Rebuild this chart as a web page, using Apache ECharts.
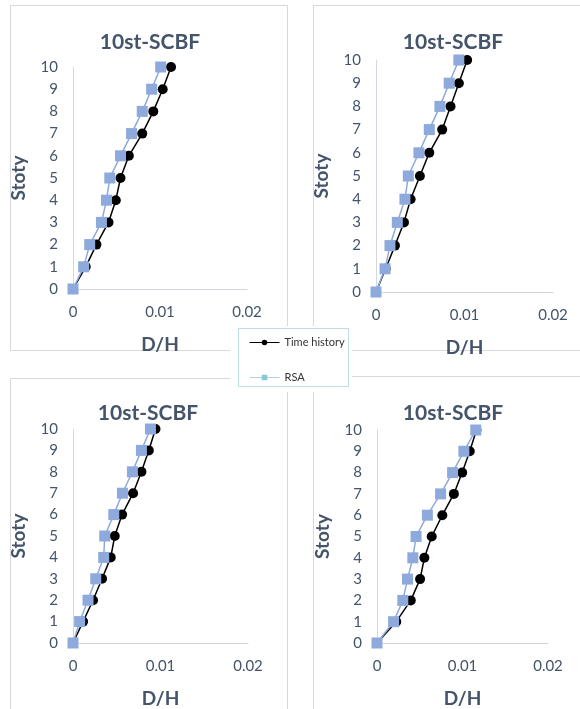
<!DOCTYPE html>
<html>
<head>
<meta charset="utf-8">
<script src="https://cdn.jsdelivr.net/npm/echarts@6/dist/echarts.min.js"></script>
<style>
  html, body { margin: 0; padding: 0; background: #fff; }
  #chart { width: 580px; height: 709px; }
</style>
</head>
<body>
<div id="chart"></div>
<script>
// Storey levels (vertical axis) shared by all four frames
const storeys = [0, 1, 2, 3, 4, 5, 6, 7, 8, 9, 10];

// Drift ratio D/H per storey, time-history analysis vs response spectrum analysis
const timeHistoryA = [0, 0.00146, 0.00269, 0.00408, 0.00492, 0.00546, 0.00642, 0.00796, 0.00923, 0.01031, 0.01127];
const rsaA         = [0, 0.00123, 0.00192, 0.00327, 0.00385, 0.00423, 0.00546, 0.00673, 0.00796, 0.00904, 0.01008];

const timeHistoryB = [0, 0.00109, 0.00214, 0.00316, 0.00391, 0.00496, 0.00602, 0.00748, 0.00842, 0.00936, 0.01030];
const rsaB         = [0, 0.00102, 0.00158, 0.00241, 0.00327, 0.00365, 0.00485, 0.00602, 0.00722, 0.00827, 0.00936];

const timeHistoryC = [0, 0.00115, 0.00229, 0.00332, 0.00431, 0.00477, 0.00561, 0.00687, 0.00782, 0.00866, 0.00943];
const rsaC         = [0, 0.00076, 0.00172, 0.00260, 0.00351, 0.00363, 0.00466, 0.00565, 0.00679, 0.00782, 0.00885];

const timeHistoryD = [0, 0.00225, 0.00395, 0.00504, 0.00554, 0.00640, 0.00764, 0.00899, 0.00996, 0.01085, 0.01163];
const rsaD         = [0, 0.00194, 0.00302, 0.00357, 0.00419, 0.00457, 0.00589, 0.00744, 0.00884, 0.01016, 0.01155];

const chartTitle = '10st-SCBF';
const xTitle = 'D/H';
const yTitle = 'Stoty';
const seriesNames = ['Time history', 'RSA'];

const xMin = 0, xMax = 0.02, xStep = 0.01;
const yMin = 0, yMax = 10, yStep = 1;

const FONT = 'Lato, "Open Sans", sans-serif';
const SLATE = '#44546A';
const AXIS_GRAY = '#D0D7E1';
const BLUE = '#8EA9DB';

const panels = [
  { th: timeHistoryA, rsa: rsaA, grid: { left: 73,  right: 333, top: 67,  bottom: 420 }, titleAt: [150, 42],
    frame: [10, 5, 277, 345] },
  { th: timeHistoryB, rsa: rsaB, grid: { left: 376, right: 27,  top: 60,  bottom: 417 }, titleAt: [453, 42],
    frame: [313, 5, 290, 345] },
  { th: timeHistoryC, rsa: rsaC, grid: { left: 73,  right: 332, top: 429, bottom: 60 },  titleAt: [148, 413],
    frame: [10, 378, 277, 360] },
  { th: timeHistoryD, rsa: rsaD, grid: { left: 377, right: 32,  top: 430, bottom: 59 },  titleAt: [453, 413],
    frame: [313, 376, 290, 360] }
];

const pairs = (xs) => xs.map((x, i) => [x, storeys[i]]);

const grids = [], xAxes = [], yAxes = [], series = [], graphics = [];

panels.forEach((p, i) => {
  grids.push(Object.assign({ containLabel: false }, p.grid));

  xAxes.push({
    type: 'value', gridIndex: i, min: xMin, max: xMax, interval: xStep,
    name: xTitle, nameLocation: 'middle', nameGap: 46,
    nameTextStyle: { fontFamily: FONT, fontSize: 19, fontWeight: 'bold', color: SLATE },
    axisLine: { show: true, onZero: false, lineStyle: { color: AXIS_GRAY, width: 1 } },
    axisTick: { show: false },
    splitLine: { show: false },
    axisLabel: { fontFamily: FONT, fontSize: 15, color: SLATE, margin: 16,
      formatter: (v) => (v === 0 ? '0' : String(+v.toFixed(2))) }
  });

  yAxes.push({
    type: 'value', gridIndex: i, min: yMin, max: yMax, interval: yStep,
    name: yTitle, nameLocation: 'middle', nameGap: 45,
    nameTextStyle: { fontFamily: FONT, fontSize: 19, fontWeight: 'bold', color: SLATE },
    axisLine: { show: true, onZero: false, lineStyle: { color: AXIS_GRAY, width: 1 } },
    axisTick: { show: false },
    splitLine: { show: false },
    axisLabel: { fontFamily: FONT, fontSize: 15, color: SLATE, margin: 15 }
  });

  series.push({
    name: seriesNames[0], type: 'line', xAxisIndex: i, yAxisIndex: i,
    data: pairs(p.th), symbol: 'circle', symbolSize: 10,
    itemStyle: { color: '#000' }, lineStyle: { color: '#000', width: 1.5 },
    emphasis: { disabled: true }, animation: false, z: 2
  });
  series.push({
    name: seriesNames[1], type: 'line', xAxisIndex: i, yAxisIndex: i,
    data: pairs(p.rsa), symbol: 'rect', symbolSize: 11,
    itemStyle: { color: BLUE }, lineStyle: { color: BLUE, width: 1.5 },
    emphasis: { disabled: true }, animation: false, z: 3
  });

  // chart-area frame of each panel
  graphics.push({
    type: 'rect', z: 0, silent: true,
    shape: { x: p.frame[0] + 0.5, y: p.frame[1] + 0.5, width: p.frame[2], height: p.frame[3] },
    style: { fill: 'none', stroke: '#D9D9D9', lineWidth: 1 }
  });
  // panel title
  graphics.push({
    type: 'text', z: 5, silent: true,
    x: p.titleAt[0], y: p.titleAt[1],
    style: { text: chartTitle, fontFamily: FONT, fontSize: 21, fontWeight: 'bold', fill: SLATE,
      align: 'center', verticalAlign: 'middle' }
  });
});

// shared legend box sitting between the panels
graphics.push({
  type: 'rect', z: 10, silent: true,
  shape: { x: 230, y: 326, width: 122, height: 66 },
  style: { fill: '#fff', stroke: 'none' }
});
graphics.push({
  type: 'rect', z: 11, silent: true,
  shape: { x: 238.5, y: 328.5, width: 110, height: 58 },
  style: { fill: 'none', stroke: '#BFDDE4', lineWidth: 1 }
});

const option = {
  backgroundColor: '#fff',
  animation: false,
  grid: grids,
  xAxis: xAxes,
  yAxis: yAxes,
  series: series,
  graphic: { elements: graphics },
  legend: {
    orient: 'vertical', left: 244, top: 332, z: 20,
    itemWidth: 30, itemHeight: 7, itemGap: 24,
    textStyle: { fontFamily: FONT, fontSize: 11, color: '#333' },
    data: [
      { name: seriesNames[0], itemStyle: { color: '#000' }, lineStyle: { color: '#000', width: 1 } },
      { name: seriesNames[1], itemStyle: { color: '#8CC8D6' }, lineStyle: { color: '#B3D3DC', width: 1 } }
    ],
    selectedMode: false
  }
};

const chart = echarts.init(document.getElementById('chart'), null, { renderer: 'canvas' });
chart.setOption(option);
</script>
</body>
</html>
